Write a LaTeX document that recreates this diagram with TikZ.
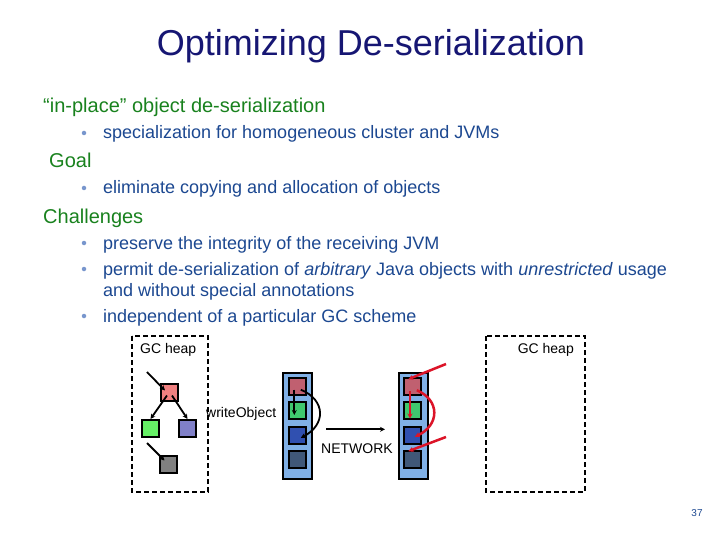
\documentclass[tikz,border=0pt]{standalone}
\usepackage{fontspec}
\setmainfont{Liberation Sans}
\usetikzlibrary{arrows.meta,calc}
\definecolor{titleblue}{RGB}{22,22,115}
\definecolor{headgreen}{RGB}{25,130,30}
\definecolor{itemblue}{RGB}{28,72,145}
\definecolor{bulletblue}{RGB}{120,150,205}
\definecolor{objred}{RGB}{240,128,128}
\definecolor{objgreen}{RGB}{102,240,102}
\definecolor{objpurple}{RGB}{128,128,200}
\definecolor{objgray}{RGB}{128,128,128}
\definecolor{bufblue}{RGB}{128,176,230}
\definecolor{bufred}{RGB}{192,96,112}
\definecolor{bufgreen}{RGB}{64,200,110}
\definecolor{bufblue2}{RGB}{48,80,176}
\definecolor{bufslate}{RGB}{64,88,120}
\definecolor{linkred}{RGB}{220,20,40}
\begin{document}
\begin{tikzpicture}[x=1pt,y=-1pt,
  lvlone/.style={anchor=base west,inner sep=0pt,text=headgreen,font=\fontsize{20}{24}\selectfont},
  lvltwo/.style={anchor=base west,inner sep=0pt,text=itemblue,font=\fontsize{18}{22}\selectfont},
  bul/.style={circle,fill=bulletblue,inner sep=0pt,minimum size=4.5pt},
  heapbox/.style={draw=black,line width=2pt,dash pattern=on 5pt off 3pt},
  small/.style={inner sep=0pt,font=\fontsize{14}{16}\selectfont},
  obj/.style={draw=black,line width=2pt,inner sep=0pt,minimum width=17pt,minimum height=17pt},
  buf/.style={draw=black,line width=2pt,fill=bufblue,inner sep=0pt,minimum width=29pt,minimum height=106pt},
  arr/.style={black,line width=1.8pt,-{Stealth[length=5pt,width=5pt]}},
  redarr/.style={linkred,line width=2.5pt,-{Stealth[length=5pt,width=5pt]}}
]
\useasboundingbox (0,0) rectangle (720,540);
\fill[white] (0,0) rectangle (720,540);

% title
\node[anchor=base,inner sep=0pt,text=titleblue,font=\fontsize{36}{40}\selectfont] (title) at (371,56) {Optimizing De-serialization};

% text
\node[lvlone] (h1) at (43,113) {“in-place” object de-serialization};
\node[bul] (b1) at (84,133) {};
\node[lvltwo] (i1) at (103,139) {specialization for homogeneous cluster and JVMs};
\node[lvlone] (h2) at (49,168) {Goal};
\node[bul] (b2) at (84,188) {};
\node[lvltwo] (i2) at (103,194) {eliminate copying and allocation of objects};
\node[lvlone] (h3) at (43,223) {Challenges};
\node[bul] (b3) at (84,243) {};
\node[lvltwo] (i3) at (103,249) {preserve the integrity of the receiving JVM};
\node[bul] (b4) at (84,269) {};
\node[lvltwo] (i4) at (103,275) {permit de-serialization of \textit{arbitrary} Java objects with \textit{unrestricted} usage};
\node[lvltwo] (i4b) at (103,296) {and without special annotations};
\node[bul] (b5) at (84,316) {};
\node[lvltwo] (i5) at (103,322) {independent of a particular GC scheme};

% heaps
\draw[heapbox] (132,336) rectangle (208,492);
\node[small,anchor=base west] (gcl) at (140,353) {GC heap};
\draw[heapbox] (486,336) rectangle (585,492);
\node[small,anchor=base east] (gcr) at (574,353) {GC heap};

% objects in left heap
\node[obj,fill=objred] (ored) at (169,392.5) {};
\node[obj,fill=objgreen] (ogreen) at (150.5,428.5) {};
\node[obj,fill=objpurple] (opurple) at (187.5,428.5) {};
\node[obj,fill=objgray] (ogray) at (168.5,464.5) {};
\coordinate (rootA) at (147,372);
\coordinate (rootB) at (147,443);
\draw[arr] (rootA) -- ($(ored.center)+(-4,-2)$);
\draw[arr] ($(ored.center)+(-2,3)$) -- (ogreen.north);
\draw[arr] ($(ored.center)+(3,3)$) -- (opurple.north);
\draw[arr] (rootB) -- ($(ogray.center)+(-4,-4)$);

\node[small,anchor=base west] (wo) at (206,417) {writeObject};

% left buffer
\node[buf] (bufL) at (297.7,425.8) {};
\node[obj,fill=bufred] (lr) at (297.8,386.2) {};
\node[obj,fill=bufgreen] (lg) at (297.8,410.5) {};
\node[obj,fill=bufblue2] (lb) at (297.8,435.3) {};
\node[obj,fill=bufslate] (ls) at (297.8,459.2) {};
\draw[arr] ($(lr.center)+(-3.5,3.5)$) -- ($(lg.center)+(-3.5,4.5)$);
\draw[arr] ($(lr.center)+(3,3.5)$) .. controls (326,400) and (326,425) .. ($(lb.center)+(3,2.5)$);

% network
\coordinate (netA) at (326,429.3);
\coordinate (netB) at (385,429.3);
\draw[arr] (netA) -- (netB);
\node[small,anchor=base] (net) at (357,453) {NETWORK};

% right buffer
\node[buf] (bufR) at (413.3,425.8) {};
\node[obj,fill=bufred] (rr) at (412.8,386.2) {};
\node[obj,fill=bufgreen] (rg) at (412.8,410.5) {};
\node[obj,fill=bufblue2] (rb) at (412.8,435.3) {};
\node[obj,fill=bufslate] (rs) at (412.8,459.2) {};
\coordinate (extA) at (446,364);
\coordinate (extB) at (446,437);
\draw[redarr] (extA) -- ($(rr.center)+(-4.5,-7)$);
\draw[redarr] (extB) -- ($(rs.center)+(-4.5,-8)$);
\draw[redarr] ($(rr.center)+(-2.8,5)$) -- ($(rg.center)+(-2.8,8)$);
\draw[redarr] ($(rr.center)+(4,4)$) .. controls (440,400) and (440,425) .. ($(rb.center)+(2,1.5)$);

% page number
\node[inner sep=0pt,text=itemblue,font=\fontsize{10}{12}\selectfont] (pg) at (697,513) {37};
\end{tikzpicture}
\end{document}
